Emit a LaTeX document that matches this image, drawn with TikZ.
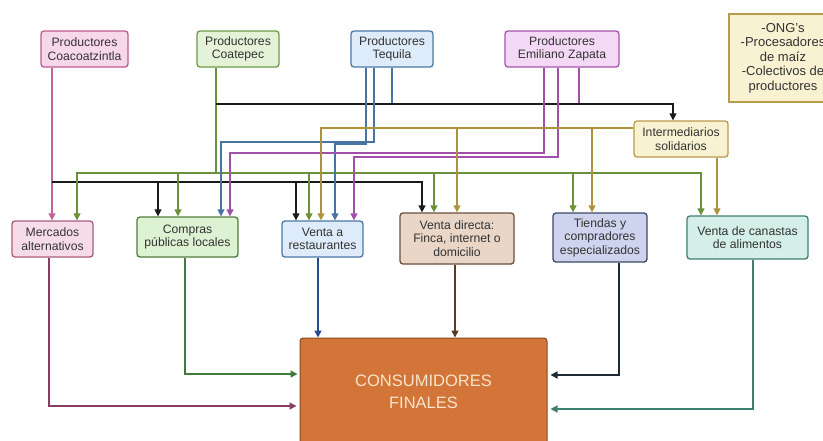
\documentclass[tikz,border=0pt]{standalone}
\usepackage{fontspec}
\setmainfont{Liberation Sans}
\usetikzlibrary{arrows.meta,calc}
\definecolor{txt}{HTML}{333333}
\definecolor{pkF}{HTML}{F7D8EA}\definecolor{pkD}{HTML}{C05A92}
\definecolor{mkF}{HTML}{F6DCE8}\definecolor{mkD}{HTML}{A85C7E}
\definecolor{grF}{HTML}{E4F3D8}\definecolor{grD}{HTML}{6F9A48}
\definecolor{cmF}{HTML}{DDF2D2}\definecolor{cmD}{HTML}{4F7D3E}
\definecolor{blF}{HTML}{DDEBFA}\definecolor{blD}{HTML}{4B79A6}
\definecolor{puF}{HTML}{F4D9F6}\definecolor{puD}{HTML}{A656AA}
\definecolor{tnF}{HTML}{F8F2D2}\definecolor{tnD}{HTML}{B99B4C}
\definecolor{vdF}{HTML}{E9D6C6}\definecolor{vdD}{HTML}{6B4E3C}
\definecolor{tiF}{HTML}{CFD4EE}\definecolor{tiD}{HTML}{3F4766}
\definecolor{caF}{HTML}{D3EFE7}\definecolor{caD}{HTML}{3F8070}
\definecolor{csF}{HTML}{D37438}\definecolor{csD}{HTML}{8A4A24}\definecolor{csT}{HTML}{F7E6CC}
\definecolor{pkL}{HTML}{C3649A}
\definecolor{bkL}{HTML}{1A1A1A}
\definecolor{grL}{HTML}{6C8F3A}
\definecolor{blL}{HTML}{4774A3}
\definecolor{puL}{HTML}{A050A8}
\definecolor{tnL}{HTML}{B0913E}
\definecolor{mrL}{HTML}{8A3C63}
\definecolor{cgL}{HTML}{3F7B3B}
\definecolor{nvL}{HTML}{264A8C}
\definecolor{brL}{HTML}{5A3A22}
\definecolor{dkL}{HTML}{1E2B36}
\definecolor{tlL}{HTML}{3F7F70}
\begin{document}
\begin{tikzpicture}[x=1pt,y=-1pt,
  box/.style={draw, rounded corners=3pt, line width=1.3pt, align=center, inner sep=0pt,
    text=txt, font=\fontsize{12.2}{13.6}\selectfont},
  arr/.style={-{Triangle[length=7pt,width=7pt]}},
  con/.style={line width=1.4pt}]
\useasboundingbox (0,0) rectangle (823,440);
\clip (0,0) rectangle (823,440);
\fill[white] (0,0) rectangle (823,440);
% top nodes
\node[box, fill=pkF, draw=pkD, minimum width=87pt, minimum height=36pt] (coa) at (84.5,49) {Productores\\Coacoatzintla};
\node[box, fill=grF, draw=grD, minimum width=82pt, minimum height=36pt] (cte) at (238,49) {Productores\\Coatepec};
\node[box, fill=blF, draw=blD, minimum width=82pt, minimum height=36pt] (teq) at (392,49) {Productores\\Tequila};
\node[box, fill=puF, draw=puD, minimum width=114pt, minimum height=36pt] (ez) at (562,49) {Productores\\Emiliano Zapata};
\node[box, rounded corners=0pt, fill=tnF, draw=tnD, minimum width=108pt, minimum height=88pt, font=\fontsize{13}{14.5}\selectfont] (ong) at (783,58) {-ONG’s\\-Procesadores\\de maíz\\-Colectivos de\\productores};
\node[box, fill=tnF, draw=tnD, minimum width=94pt, minimum height=36pt] (inter) at (681,139) {Intermediarios\\solidarios};
% bottom row
\node[box, fill=mkF, draw=mkD, minimum width=81pt, minimum height=36pt] (merc) at (52.5,239) {Mercados\\alternativos};
\node[box, fill=cmF, draw=cmD, minimum width=101pt, minimum height=40pt] (comp) at (187.5,237) {Compras\\públicas locales};
\node[box, fill=blF, draw=blD, minimum width=81pt, minimum height=36pt] (rest) at (322.5,239) {Venta a\\restaurantes};
\node[box, fill=vdF, draw=vdD, minimum width=114pt, minimum height=51pt] (vd) at (457,238.5) {Venta directa:\\Finca, internet o\\domicilio};
\node[box, fill=tiF, draw=tiD, minimum width=94pt, minimum height=49pt] (tie) at (600,237.5) {Tiendas y\\compradores\\especializados};
\node[box, fill=caF, draw=caD, minimum width=121pt, minimum height=43pt] (can) at (747.5,237.5) {Venta de canastas\\de alimentos};
\node[box, fill=csF, draw=csD, line width=1pt, minimum width=247pt, minimum height=108pt, text=csT, font=\fontsize{16.5}{22}\selectfont] (cons) at (423.5,392) {CONSUMIDORES\\FINALES};
% Coacoatzintla
\draw[pkL,con,arr] ([xshift=-32.5pt]coa.south) -- ([xshift=-0.5pt]merc.north);
\coordinate (jb) at (52,182);
\draw[bkL,con,arr] (jb) -| ([xshift=-35pt]vd.north);
\draw[bkL,con,arr] (158,182) -- ([xshift=-29.5pt]comp.north);
\draw[bkL,con,arr] (296,182) -- ([xshift=-26.5pt]rest.north);
% Coatepec
\coordinate (jg) at (216,173);
\draw[grL,con] ([xshift=-22pt]cte.south) -- (jg);
\draw[grL,con,arr] (jg) -| ([xshift=24.5pt]merc.north);
\draw[grL,con,arr] (jg) -| ([xshift=-46.5pt]can.north);
\draw[grL,con,arr] (178,173) -- ([xshift=-9.5pt]comp.north);
\draw[grL,con,arr] (309,173) -- ([xshift=-13.5pt]rest.north);
\draw[grL,con,arr] (434,173) -- ([xshift=-23pt]vd.north);
\draw[grL,con,arr] (573,173) -- ([xshift=-27pt]tie.north);
% black top bus to intermediarios
\coordinate (jk) at (216,104);
\draw[blL,con] (teq.south) -- (392,104);
\draw[puL,con] ([xshift=17pt]ez.south) -- (579,104);
\draw[bkL,con,arr] (jk) -| ([xshift=-8pt]inter.north);
% Tequila
\draw[blL,con,arr] ([xshift=-18pt]teq.south) -- (374,142) -| ([xshift=33.5pt]comp.north);
\draw[blL,con,arr] ([xshift=-26pt]teq.south) -- (366,144) -| ([xshift=12.5pt]rest.north);
% Emiliano Zapata
\draw[puL,con,arr] ([xshift=-18pt]ez.south) -- (544,153) -| ([xshift=42.5pt]comp.north);
\draw[puL,con,arr] ([xshift=-4pt]ez.south) -- (558,157) -| ([xshift=31.5pt]rest.north);
% Intermediarios
\draw[tnL,con,arr] ([yshift=11pt]inter.west) -| ([xshift=-1.5pt]rest.north);
\draw[tnL,con,arr] (457,128) -- (vd.north);
\draw[tnL,con,arr] (592,128) -- ([xshift=-8pt]tie.north);
\draw[tnL,con,arr] ([xshift=36pt]inter.south) -- ([xshift=-30.5pt]can.north);
% to consumers
\draw[mrL,con,arr,shorten >=3pt] ([xshift=-3.5pt]merc.south) |- ([yshift=-14pt]cons.west);
\draw[cgL,con,arr,shorten >=2pt] ([xshift=-2.5pt]comp.south) |- ([yshift=18pt]cons.west);
\draw[nvL,con,arr] ([xshift=-4.5pt]rest.south) -- ([xshift=-105.5pt]cons.north);
\draw[brL,con,arr] ([xshift=-2pt]vd.south) -- ([xshift=31.5pt]cons.north);
\draw[dkL,con,arr,shorten >=3pt] ([xshift=19pt]tie.south) |- ([yshift=17pt]cons.east);
\draw[tlL,con,arr,shorten >=3pt] ([xshift=5.5pt]can.south) |- ([yshift=-17pt]cons.east);
\end{tikzpicture}
\end{document}
